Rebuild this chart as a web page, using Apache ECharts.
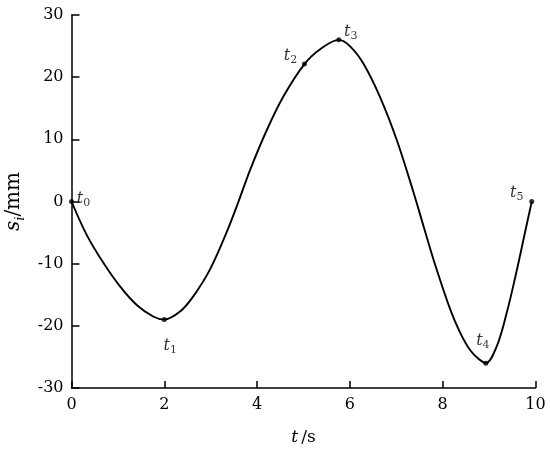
<!DOCTYPE html>
<html>
<head>
<meta charset="utf-8">
<script src="https://cdn.jsdelivr.net/npm/echarts@6/dist/echarts.min.js"></script>
<style>
  html, body { margin: 0; padding: 0; background: #fff; }
  #main { width: 550px; height: 450px; }
</style>
</head>
<body>
<div id="main"></div>
<script>
// curve s_i(t)
var curveT = [0, 0.33, 0.69, 1.05, 1.40, 1.76, 2.0, 2.34, 2.62, 2.98, 3.34, 3.6, 3.85, 4.21, 4.56, 5.02, 5.38, 5.76, 6.0, 6.29, 6.65, 7.01, 7.37, 7.6, 7.83, 8.16, 8.37, 8.59, 8.77, 8.93, 9.16, 9.38, 9.59, 9.77, 9.92];
var curveS = [0, -5.4, -9.9, -13.7, -16.6, -18.5, -19.0, -17.7, -15.3, -11.0, -5.0, 0, 5.1, 11.5, 16.8, 22.1, 24.6, 26.0, 25.0, 22.2, 16.8, 9.9, 1.5, -4.3, -10.0, -17.3, -21.0, -23.9, -25.3, -26.0, -23.4, -17.9, -11.3, -5.1, 0];

// key points t0..t5
var keyNames = ['0', '1', '2', '3', '4', '5'];
var keyT = [0, 2.0, 5.02, 5.76, 8.93, 9.92];
var keyS = [0, -19.0, 22.1, 26.0, -26.0, 0];

var xTicks = [0, 2, 4, 6, 8, 10];
var yTicks = [-30, -20, -10, 0, 10, 20, 30];

// label offsets (px) next to each key point
var labelOffsets = [[12, -3], [6, 26], [-14, -8], [12, -8], [-3, -22], [-15, -9]];

var serif = 'DejaVu Serif';

var curveData = curveT.map(function (t, i) { return [t, curveS[i]]; });
var keyData = keyT.map(function (t, i) {
  return {
    value: [t, keyS[i]],
    label: { offset: labelOffsets[i] }
  };
});

var richSub = {
  t: { fontFamily: serif, fontStyle: 'italic', fontSize: 16, color: '#000', lineHeight: 22, verticalAlign: 'middle' },
  n: { fontFamily: serif, fontSize: 11, color: '#000', lineHeight: 22, verticalAlign: 'bottom', padding: [0, 0, 1, 0] }
};

var myChart = echarts.init(document.getElementById('main'));
myChart.setOption({
  animation: false,
  grid: { left: 71.5, right: 14.5, top: 15, bottom: 62, outerBoundsMode: 'none', containLabel: false },
  xAxis: {
    type: 'value',
    min: xTicks[0],
    max: xTicks[xTicks.length - 1],
    interval: 2,
    name: '{t|t} {u|/s}',
    nameLocation: 'middle',
    nameGap: 41,
    nameTextStyle: {
      rich: {
        t: { fontFamily: serif, fontStyle: 'italic', fontSize: 17, color: '#000' },
        u: { fontFamily: serif, fontSize: 17, color: '#000' }
      }
    },
    axisLine: { onZero: false, lineStyle: { color: '#000', width: 1.5 } },
    axisTick: { inside: true, length: 7, lineStyle: { color: '#000', width: 1.5 } },
    axisLabel: { color: '#000', fontFamily: serif, fontSize: 16, margin: 9 },
    splitLine: { show: false }
  },
  yAxis: {
    type: 'value',
    min: yTicks[0],
    max: yTicks[yTicks.length - 1],
    interval: 10,
    name: '{s|s}{i|i}{u|/mm}',
    nameLocation: 'middle',
    nameGap: 37,
    nameTextStyle: {
      rich: {
        s: { fontFamily: serif, fontStyle: 'italic', fontSize: 20, color: '#000', lineHeight: 26, verticalAlign: 'middle' },
        i: { fontFamily: serif, fontStyle: 'italic', fontSize: 13, color: '#000', lineHeight: 26, verticalAlign: 'bottom' },
        u: { fontFamily: serif, fontSize: 20, color: '#000', lineHeight: 26, verticalAlign: 'middle' }
      }
    },
    axisLine: { show: true, onZero: false, lineStyle: { color: '#000', width: 1.5 } },
    axisTick: { show: true, inside: true, length: 8, lineStyle: { color: '#000', width: 1.5 } },
    axisLabel: { color: '#000', fontFamily: serif, fontSize: 16, margin: 8 },
    splitLine: { show: false }
  },
  series: [
    {
      type: 'line',
      data: curveData,
      smooth: 0.35,
      showSymbol: false,
      lineStyle: { color: '#000', width: 1.9 }
    },
    {
      type: 'scatter',
      data: keyData,
      symbolSize: 5,
      itemStyle: { color: '#000' },
      label: {
        show: true,
        position: 'inside',
        formatter: function (p) { return '{t|t}{n|' + keyNames[p.dataIndex] + '}'; },
        rich: richSub
      }
    }
  ]
});
</script>
</body>
</html>
